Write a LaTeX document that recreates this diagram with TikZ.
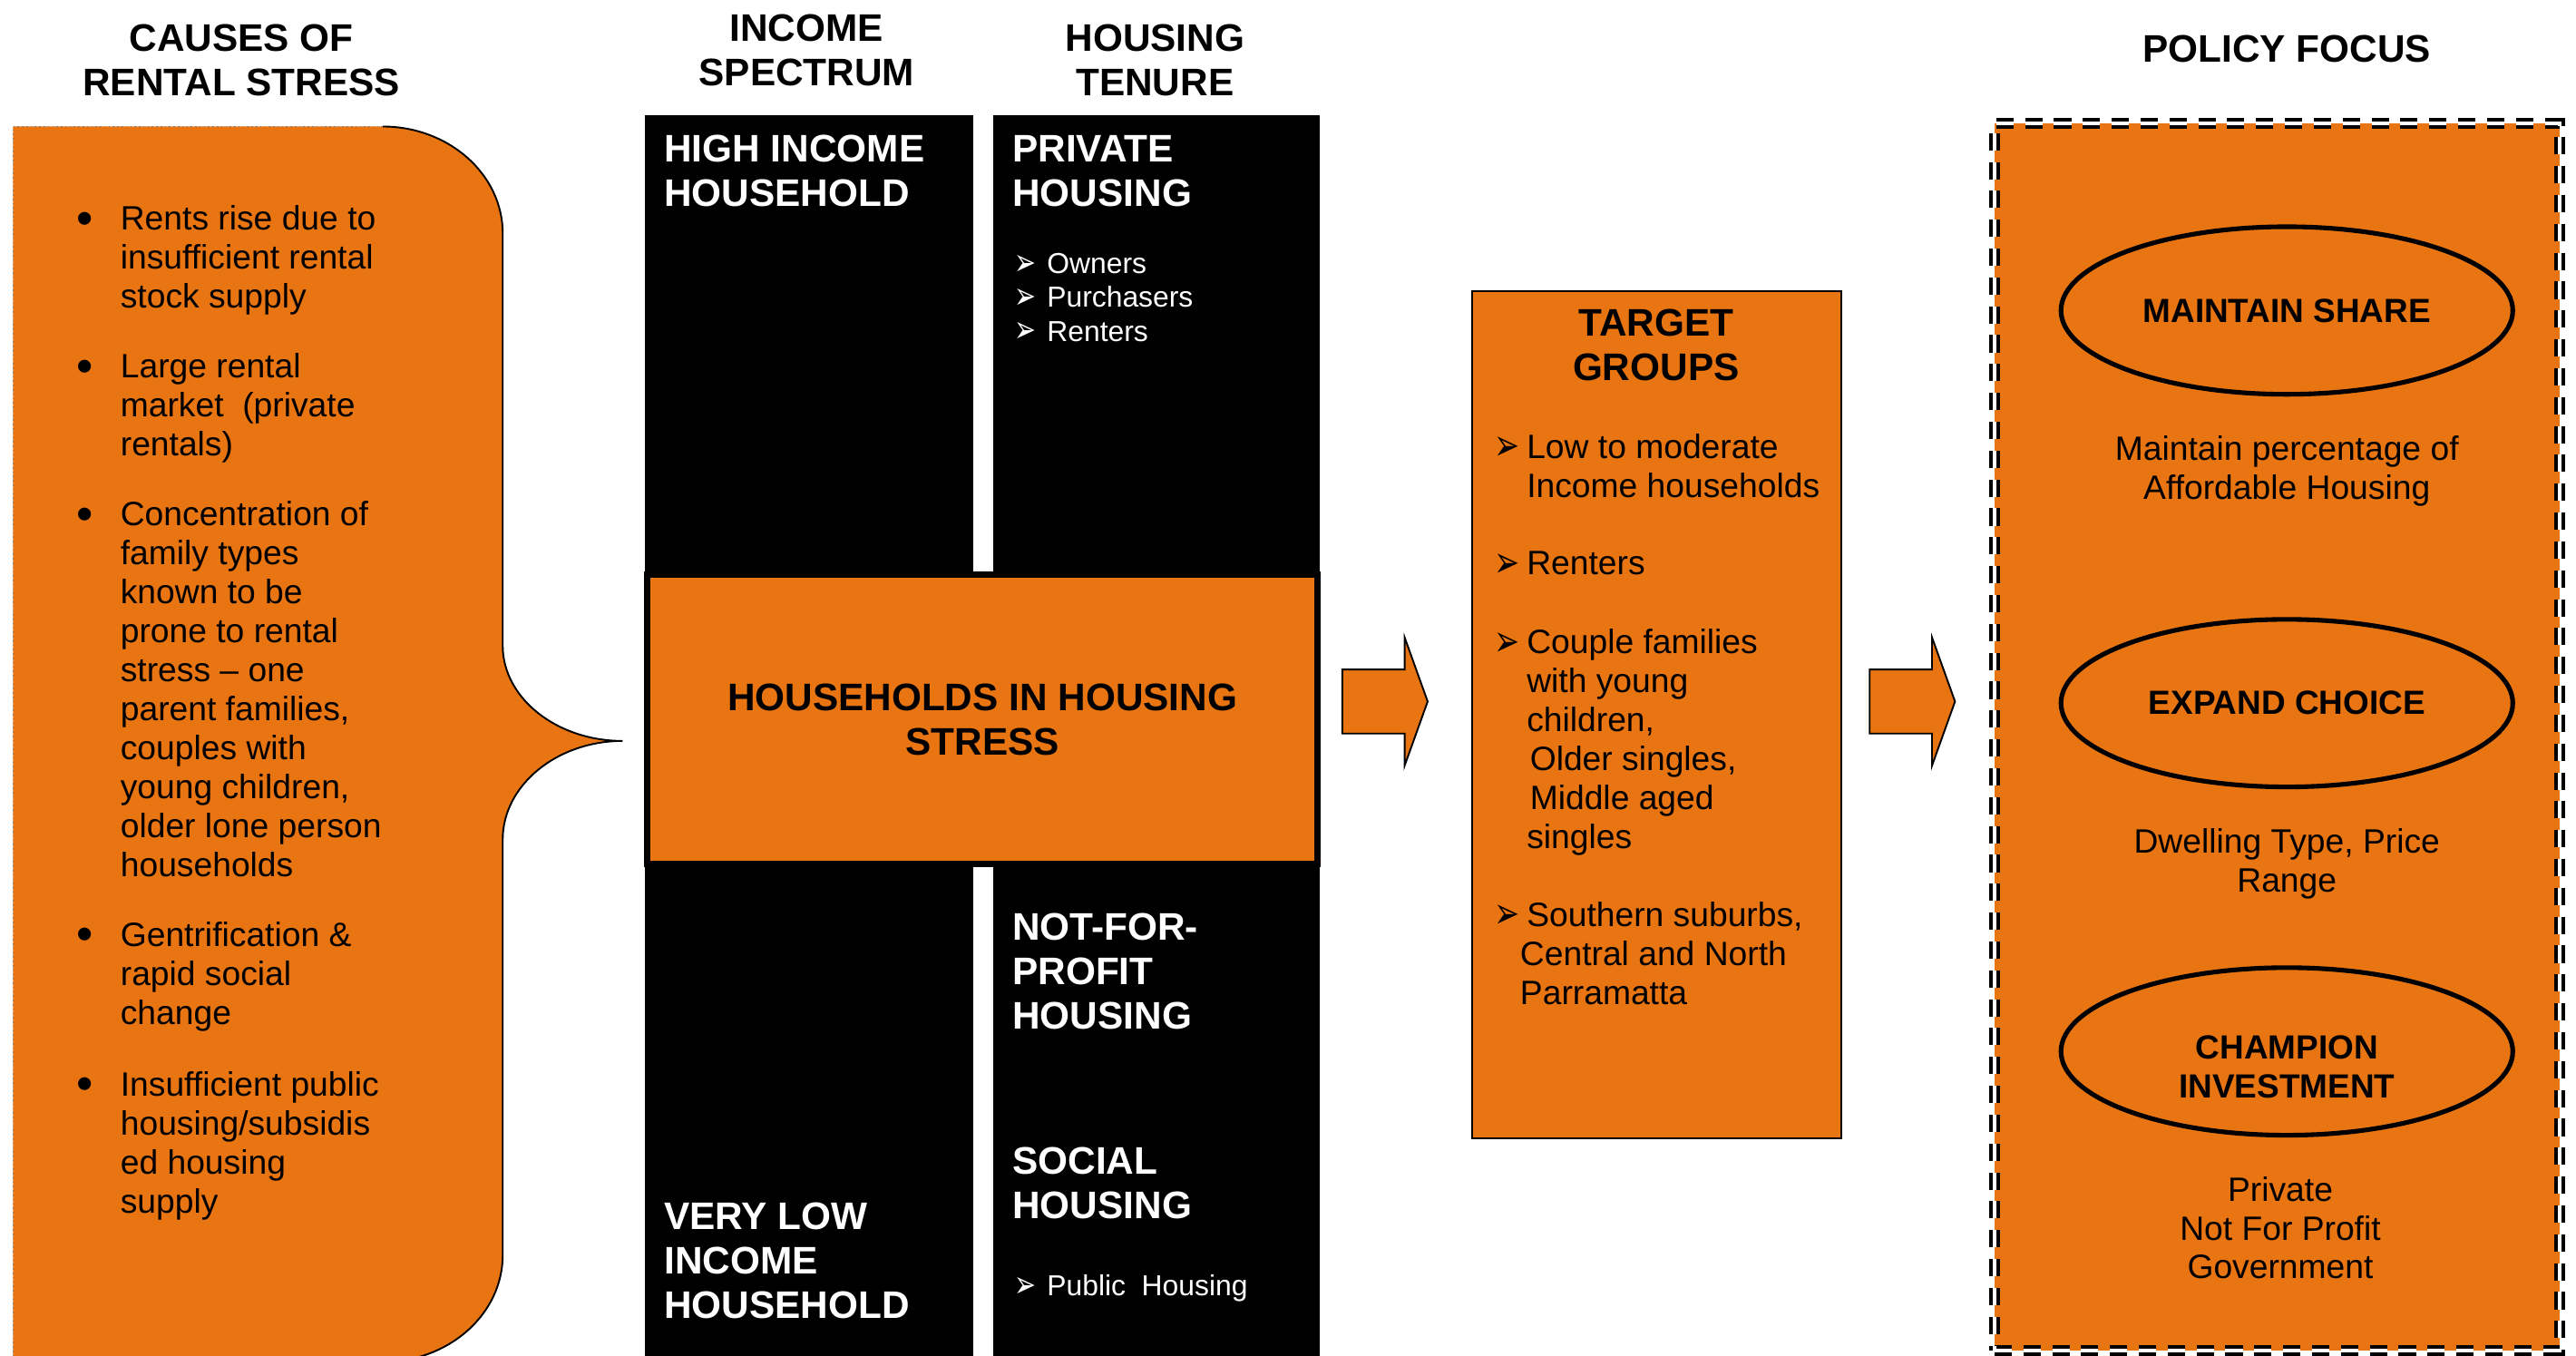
\documentclass[tikz,border=0pt]{standalone}
\usepackage{fontspec}
\usepackage{graphicx}
\setmainfont{Liberation Sans}
\newfontfamily\symfont{DejaVu Sans}
\usetikzlibrary{positioning,shapes.geometric}
\definecolor{rentorange}{RGB}{232,116,18}
\newcommand{\lstack}[1]{\begin{tabular}[t]{@{}l@{}}#1\end{tabular}}
\newcommand{\cstack}[1]{\begin{tabular}[t]{@{}c@{}}#1\end{tabular}}
\newcommand{\dotitem}[1]{\makebox[0.53cm][l]{\raisebox{-0.12em}{\scalebox{1.4}{\textbullet}}}\lstack{#1}}
\newcommand{\arrbul}[1][0.4cm]{\makebox[#1][l]{\raisebox{-0.06em}{\scalebox{0.9}[1.3]{\symfont ➢}}}}
\tikzset{
  colhead/.style={font=\fontsize{13.3}{15.4}\selectfont\bfseries, inner sep=0pt, anchor=base},
  whitehead/.style={colhead, text=white, anchor=base west},
  bodytxt/.style={font=\fontsize{11.7}{13.5}\selectfont, inner sep=0pt, anchor=base west},
  smalltxt/.style={font=\fontsize{10}{11.7}\selectfont, inner sep=0pt, anchor=base west, text=white},
  band/.style={fill=black, anchor=north west, inner sep=0pt, minimum width=#1, minimum height=15.2cm},
  panel/.style={fill=rentorange, draw=black, inner sep=0pt},
  focusoval/.style={ellipse, draw=black, line width=1.6pt, minimum width=5.5cm, minimum height=2.04cm,
                    inner sep=0pt, align=center, font=\fontsize{11.6}{13.7}\selectfont\bfseries},
  ovaltxt/.style={inner sep=0pt, align=center, font=\fontsize{11.6}{13.7}\selectfont\bfseries},
  blockarrow/.style={fill=rentorange, draw=black, line width=0.6pt}
}

\begin{document}
\begin{tikzpicture}
\useasboundingbox (0,0) rectangle (31.36,-16.5);
% causes brace
\coordinate (tip) at (7.58,-9.02);
\fill[rentorange] (0.16,-1.54) -- (4.66,-1.54)
  .. controls (5.46,-1.54) and (6.12,-2.12) .. (6.12,-2.84) -- (6.12,-7.86)
  .. controls (6.12,-8.50) and (6.78,-9.02) .. (tip)
  .. controls (6.78,-9.02) and (6.12,-9.56) .. (6.12,-10.22) -- (6.12,-15.28)
  .. controls (6.12,-16.00) and (5.46,-16.58) .. (4.66,-16.58) -- (0.16,-16.58) -- cycle;
\draw[line width=0.6pt] (4.66,-1.54)
  .. controls (5.46,-1.54) and (6.12,-2.12) .. (6.12,-2.84) -- (6.12,-7.86)
  .. controls (6.12,-8.50) and (6.78,-9.02) .. (tip)
  .. controls (6.78,-9.02) and (6.12,-9.56) .. (6.12,-10.22) -- (6.12,-15.28)
  .. controls (6.12,-16.00) and (5.46,-16.58) .. (4.66,-16.58);
\draw[densely dotted, gray, line width=0.5pt] (4.66,-1.54) -- (0.16,-1.54) -- (0.16,-16.58);

\node[colhead] (causeshd) at (2.94,-0.62) {\cstack{CAUSES OF\\RENTAL STRESS}};
\node[colhead] (incomehd) at (9.82,-0.50) {\cstack{INCOME\\SPECTRUM}};
\node[colhead] (tenurehd) at (14.06,-0.62) {\cstack{HOUSING\\TENURE}};
\node[colhead] (policyhd) at (27.84,-0.76) {POLICY FOCUS};

\node[bodytxt] (c1) at (0.93,-2.80) {\dotitem{Rents rise due to\\insufficient rental\\stock supply}};
\node[bodytxt] (c2) at (0.93,-4.60) {\dotitem{Large rental\\market\ \ (private\\rentals)}};
\node[bodytxt] (c3) at (0.93,-6.40) {\dotitem{Concentration of\\family types\\known to be\\prone to rental\\stress -- one\\parent families,\\couples with\\young children,\\older lone person\\households}};
\node[bodytxt] (c4) at (0.93,-11.52) {\dotitem{Gentrification \&\\rapid social\\change}};
\node[bodytxt] (c5) at (0.93,-13.34) {\dotitem{Insufficient public\\housing/subsidis\\ed housing\\supply}};

% income and tenure bands
\node[band=4cm] (income) at (7.84,-1.40) {};
\node[band=3.98cm] (tenure) at (12.08,-1.40) {};
\node[whitehead] (hi) at (8.08,-1.97) {\lstack{HIGH INCOME\\HOUSEHOLD}};
\node[whitehead] (lo) at (8.08,-14.97) {\lstack{VERY LOW\\INCOME\\HOUSEHOLD}};
\node[whitehead] (priv) at (12.32,-1.97) {\lstack{PRIVATE\\HOUSING}};
\node[smalltxt] (privlist) at (12.34,-3.33) {\lstack{\arrbul Owners\\\arrbul Purchasers\\\arrbul Renters}};
\node[whitehead] (nfp) at (12.32,-11.45) {\lstack{NOT-FOR-\\PROFIT\\HOUSING}};
\node[whitehead] (soc) at (12.32,-14.29) {\lstack{SOCIAL\\HOUSING}};
\node[smalltxt] (pub) at (12.34,-15.77) {\arrbul Public\ \ Housing};

\node[panel, line width=2.2pt, minimum width=8.16cm, minimum height=3.52cm, align=center,
      font=\fontsize{13.3}{15.4}\selectfont\bfseries] (stress) at (11.96,-8.76) {HOUSEHOLDS IN HOUSING\\STRESS};

\draw[blockarrow, shift={(16.34,-8.54)}] (0,0.39) -- (0.76,0.39) -- (0.76,0.78) -- (1.04,0)
  -- (0.76,-0.78) -- (0.76,-0.39) -- (0,-0.39) -- cycle;

% target groups
\node[panel, line width=0.6pt, minimum width=4.5cm, minimum height=10.32cm] (target) at (20.17,-8.70) {};
\node[colhead] (targethd) at (20.16,-4.09) {\cstack{TARGET\\GROUPS}};
\node[bodytxt] (t1) at (18.18,-5.58) {\arrbul\lstack{Low to moderate\\Income households}};
\node[bodytxt] (t2) at (18.18,-7.00) {\arrbul Renters};
\node[bodytxt] (t3) at (18.18,-7.96) {\arrbul\lstack{Couple families\\with young\\children,\\\hspace{1.1pt}Older singles,\\\hspace{1.1pt}Middle aged\\singles}};
\node[bodytxt] (t4) at (18.18,-11.28) {\arrbul\lstack{Southern suburbs,\\\hspace{-2.3pt}Central and North\\\hspace{-2.3pt}Parramatta}};

\draw[blockarrow, shift={(22.76,-8.54)}] (0,0.39) -- (0.76,0.39) -- (0.76,0.78) -- (1.04,0)
  -- (0.76,-0.78) -- (0.76,-0.39) -- (0,-0.39) -- cycle;

% policy focus
\node[panel, line width=1.2pt, double=white, double distance=1.2pt, dash pattern=on 6pt off 4pt,
      minimum width=6.88cm, minimum height=14.94cm] (policy) at (27.72,-8.97) {};
\node[focusoval] (share) at (27.84,-3.78) {MAINTAIN SHARE};
\node[focusoval] (choice) at (27.84,-8.56) {EXPAND CHOICE};
\node[focusoval] (invest) at (27.84,-12.80) {};
\node[ovaltxt] (investhd) at (27.84,-12.99) {CHAMPION\\INVESTMENT};
\node[bodytxt, anchor=base] (sharetxt) at (27.84,-5.60) {\cstack{Maintain percentage of\\Affordable Housing}};
\node[bodytxt, anchor=base] (choicetxt) at (27.84,-10.38) {\cstack{Dwelling Type, Price\\Range}};
\node[bodytxt, anchor=base] (investtxt) at (27.76,-14.62) {\cstack{Private\\Not For Profit\\Government}};
\end{tikzpicture}
\end{document}
